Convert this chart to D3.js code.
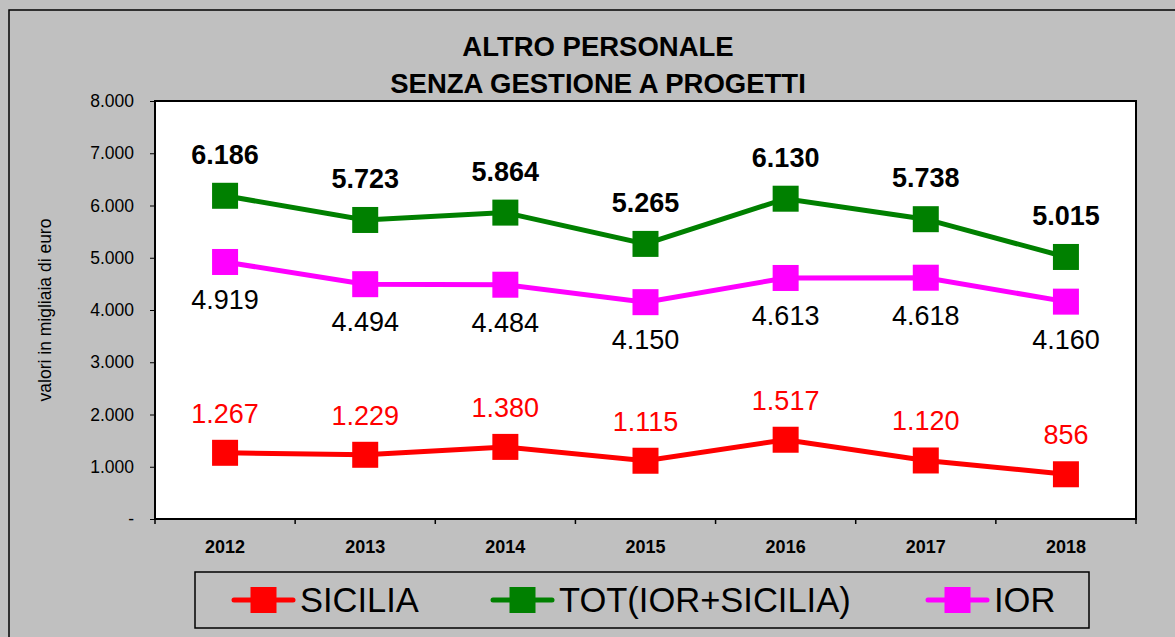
<!DOCTYPE html>
<html>
<head>
<meta charset="utf-8">
<script src="https://cdn.jsdelivr.net/npm/d3@7"></script>
<style>
  body { margin: 0; background: #c0c0c0; }
  svg { display: block; font-family: "Liberation Sans", Arial, sans-serif; }
</style>
</head>
<body>
<div id="chart"></div>
<script>
const years = ["2012", "2013", "2014", "2015", "2016", "2017", "2018"];
const sicilia = [1267, 1229, 1380, 1115, 1517, 1120, 856];
const tot = [6186, 5723, 5864, 5265, 6130, 5738, 5015];
const ior = [4919, 4494, 4484, 4150, 4613, 4618, 4160];
const yTicks = [0, 1000, 2000, 3000, 4000, 5000, 6000, 7000, 8000];
const titleLines = ["ALTRO PERSONALE", "SENZA GESTIONE A PROGETTI"];
const yTitle = "valori in migliaia di euro";

const W = 1175, H = 637;
const plot = { left: 155, top: 101, right: 1136, bottom: 519 };

const it = d3.formatLocale({ decimal: ",", thousands: ".", grouping: [3], currency: ["€", ""] });
const fmt = it.format(",d");

const svg = d3.select("#chart").append("svg")
    .attr("width", W)
    .attr("height", H);

// outer frame
svg.append("rect")
    .attr("x", 9).attr("y", 10)
    .attr("width", W).attr("height", H)
    .attr("fill", "#c0c0c0")
    .attr("stroke", "#000")
    .attr("stroke-width", 1.5);

// title
svg.append("g").selectAll("text")
    .data(titleLines)
    .join("text")
    .attr("x", 598)
    .attr("y", (d, i) => 56 + i * 37)
    .attr("text-anchor", "middle")
    .attr("font-size", 27.5)
    .attr("font-weight", "bold")
    .text(d => d);

const x = d3.scaleBand().domain(years).range([plot.left, plot.right]);
const y = d3.scaleLinear().domain([0, 8000]).range([plot.bottom, plot.top]);
const cx = d => x(d) + x.bandwidth() / 2;

// plot area
svg.append("rect")
    .attr("x", plot.left).attr("y", plot.top)
    .attr("width", plot.right - plot.left)
    .attr("height", plot.bottom - plot.top)
    .attr("fill", "#fff")
    .attr("stroke", "#000")
    .attr("stroke-width", 2);

// y axis
const yAxis = svg.append("g")
    .attr("transform", `translate(${plot.left},0)`)
    .call(d3.axisLeft(y).tickValues(yTicks).tickSize(5).tickPadding(16)
        .tickFormat(d => d === 0 ? "-" : fmt(d)));
yAxis.select(".domain").remove();
yAxis.selectAll("line").attr("stroke", "#000");
yAxis.selectAll("text")
    .attr("font-family", "Liberation Sans, Arial, sans-serif")
    .attr("font-size", 17.5)
    .attr("fill", "#000");

svg.append("text")
    .attr("transform", `translate(51,${(plot.top + plot.bottom) / 2}) rotate(-90)`)
    .attr("text-anchor", "middle")
    .attr("font-size", 17.5)
    .text(yTitle);

// x axis: ticks on band edges, labels at centres
const edges = years.map(d => x(d)).concat([x.range()[1]]);
svg.append("g").selectAll("line")
    .data(edges)
    .join("line")
    .attr("x1", d => d).attr("x2", d => d)
    .attr("y1", plot.bottom).attr("y2", plot.bottom + 5)
    .attr("stroke", "#000")
    .attr("stroke-width", 1.5);

svg.append("g").selectAll("text")
    .data(years)
    .join("text")
    .attr("x", d => cx(d))
    .attr("y", 553)
    .attr("text-anchor", "middle")
    .attr("font-size", 18)
    .attr("font-weight", "bold")
    .text(d => d);

// series
const series = [
    { name: "SICILIA", values: sicilia, color: "#ff0000", labelColor: "#ff0000", bold: false, dy: -30 },
    { name: "TOT(IOR+SICILIA)", values: tot, color: "#008000", labelColor: "#000", bold: true, dy: -32 },
    { name: "IOR", values: ior, color: "#ff00ff", labelColor: "#000", bold: false, dy: 47 }
];

const line = d3.line()
    .x((d, i) => cx(years[i]))
    .y(d => y(d));

const m = 26;

series.forEach(s => {
    const g = svg.append("g");
    g.append("path")
        .datum(s.values)
        .attr("d", line)
        .attr("fill", "none")
        .attr("stroke", s.color)
        .attr("stroke-width", 5);

    g.selectAll("rect")
        .data(s.values)
        .join("rect")
        .attr("x", (d, i) => cx(years[i]) - m / 2)
        .attr("y", d => y(d) - m / 2)
        .attr("width", m)
        .attr("height", m)
        .attr("fill", s.color);
});

series.forEach(s => {
    svg.append("g").selectAll("text")
        .data(s.values)
        .join("text")
        .attr("x", (d, i) => cx(years[i]))
        .attr("y", d => y(d) + s.dy)
        .attr("text-anchor", "middle")
        .attr("font-size", 27)
        .attr("font-weight", s.bold ? "bold" : "normal")
        .attr("fill", s.labelColor)
        .text(d => fmt(d));
});

// legend
const legend = svg.append("g");
legend.append("rect")
    .attr("x", 195).attr("y", 572)
    .attr("width", 894).attr("height", 56)
    .attr("fill", "#c0c0c0")
    .attr("stroke", "#000")
    .attr("stroke-width", 1.5);

const legendX = [234, 493, 928];
const items = legend.selectAll("g.item")
    .data(series)
    .join("g")
    .attr("class", "item")
    .attr("transform", (d, i) => `translate(${legendX[i]},600)`);

items.append("line")
    .attr("x1", 0).attr("x2", 59)
    .attr("stroke", d => d.color)
    .attr("stroke-width", 5)
    .attr("stroke-linecap", "round");

items.append("rect")
    .attr("x", 29.5 - m / 2).attr("y", -m / 2)
    .attr("width", m).attr("height", m)
    .attr("fill", d => d.color);

items.append("text")
    .attr("x", 66)
    .attr("y", 12)
    .attr("font-size", 34.5)
    .text(d => d.name);
</script>
</body>
</html>
